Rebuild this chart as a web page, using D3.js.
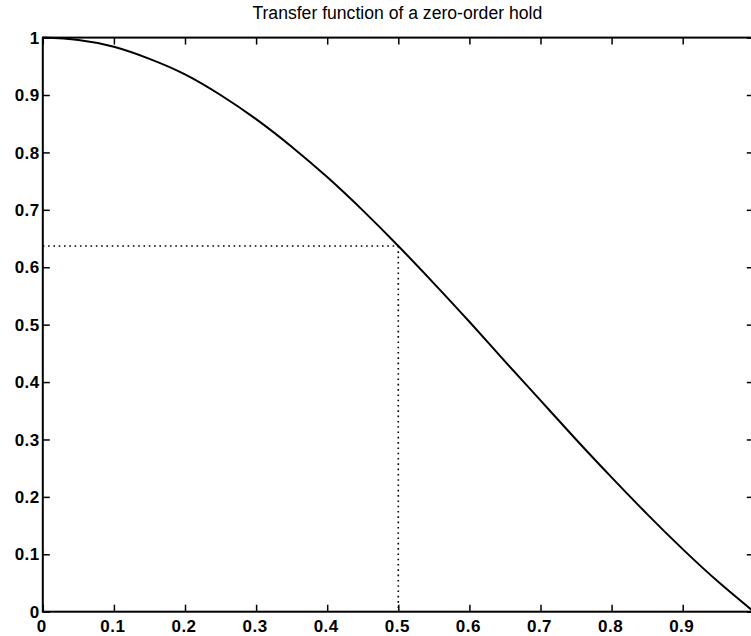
<!DOCTYPE html>
<html>
<head>
<meta charset="utf-8">
<script src="https://cdn.jsdelivr.net/npm/d3@7"></script>
<style>
html,body{margin:0;padding:0;background:#fff;}
svg{display:block;}
</style>
</head>
<body>
<svg id="chart" width="751" height="636"></svg>
<script>
// Data
const freq = [0,0.05,0.1,0.15,0.2,0.25,0.3,0.35,0.4,0.45,0.5,0.55,0.6,0.65,0.7,0.75,0.8,0.85,0.9,0.95,1.0];
const gain = [1,0.996,0.984,0.963,0.936,0.900,0.858,0.810,0.757,0.699,0.637,0.572,0.505,0.436,0.368,0.300,0.234,0.170,0.109,0.052,0];
const xTicks = [0,0.1,0.2,0.3,0.4,0.5,0.6,0.7,0.8,0.9];
const yTicks = [0,0.1,0.2,0.3,0.4,0.5,0.6,0.7,0.8,0.9,1];
const markX = [0.5];
const markY = [0.637];
const title = "Transfer function of a zero-order hold";

const svg = d3.select("#chart");
const L = 42.8, R = 753.8, T = 37.6, B = 611.7;
const x = d3.scaleLinear().domain([0,1]).range([L,R]);
const y = d3.scaleLinear().domain([0,1]).range([B,T]);
const font = "'Liberation Sans', Arial, Helvetica, sans-serif";

// dotted guide lines
const g = svg.append("g");
g.append("line")
  .attr("x1", x(0)).attr("x2", x(markX[0]))
  .attr("y1", y(markY[0])).attr("y2", y(markY[0]))
  .attr("stroke","#000").attr("stroke-width",1.6)
  .attr("stroke-dasharray","1.6,3.7");
g.append("line")
  .attr("x1", x(markX[0])).attr("x2", x(markX[0]))
  .attr("y1", y(markY[0])).attr("y2", y(0))
  .attr("stroke","#000").attr("stroke-width",1.6)
  .attr("stroke-dasharray","1.6,3.7");

// curve
const data = freq.map((f,i)=>[f,gain[i]]);
svg.append("path")
  .datum(data)
  .attr("fill","none")
  .attr("stroke","#000")
  .attr("stroke-width",2)
  .attr("d", d3.line().x(d=>x(d[0])).y(d=>y(d[1])).curve(d3.curveNatural));

// axes (inward ticks)
const tl = 7;
const axB = d3.axisBottom(x).tickValues(xTicks).tickSize(tl).tickFormat("");
const axT = d3.axisTop(x).tickValues(xTicks).tickSize(tl).tickFormat("");
const axL = d3.axisLeft(y).tickValues(yTicks).tickSize(tl).tickFormat("");
const axR = d3.axisRight(y).tickValues(yTicks).tickSize(tl).tickFormat("");

function styleAxis(sel){
  sel.select(".domain").remove();
  sel.selectAll(".tick line").attr("stroke","#000").attr("stroke-width",1.5);
}
svg.append("g").attr("transform",`translate(0,${B})`).call(axT).call(styleAxis);
svg.append("g").attr("transform",`translate(0,${T})`).call(axB).call(styleAxis);
svg.append("g").attr("transform",`translate(${L},0)`).call(axR).call(styleAxis);
svg.append("g").attr("transform",`translate(${R},0)`).call(axL).call(styleAxis);

// frame
svg.append("rect")
  .attr("x",L).attr("y",T).attr("width",R-L).attr("height",B-T)
  .attr("fill","none").attr("stroke","#000").attr("stroke-width",2);

// tick labels
svg.append("g").selectAll("text").data(xTicks).join("text")
  .attr("x",d=>x(d)-1).attr("y",B+20)
  .attr("text-anchor","middle")
  .attr("font-family",font).attr("font-weight","bold").attr("font-size",17)
  .attr("letter-spacing",0.5)
  .text(d=>String(d));
svg.append("g").selectAll("text").data(yTicks).join("text")
  .attr("x",L-3).attr("y",d=>y(d))
  .attr("dy","0.36em")
  .attr("text-anchor","end")
  .attr("font-family",font).attr("font-weight","bold").attr("font-size",17)
  .attr("letter-spacing",0.5)
  .text(d=>String(d));

// title
svg.append("text")
  .attr("x",(L+R)/2-1).attr("y",19)
  .attr("text-anchor","middle")
  .attr("font-family",font).attr("font-size",17.6)
  .text(title);
</script>
</body>
</html>
